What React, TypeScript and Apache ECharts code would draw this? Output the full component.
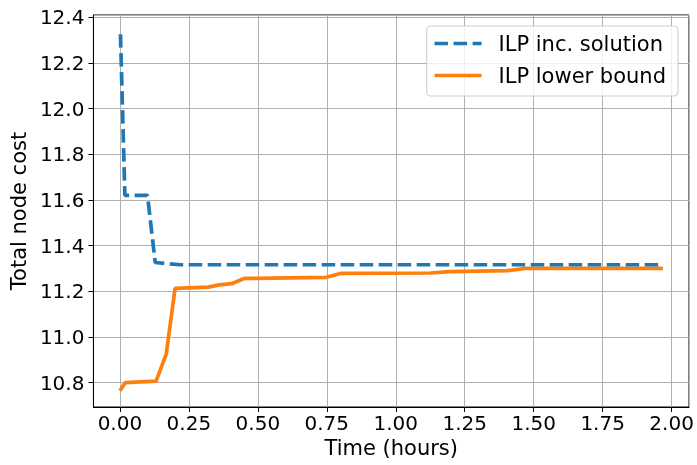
import React, { useEffect, useRef } from "react";
import * as echarts from "echarts";

const incTimes = [0.002, 0.018, 0.1, 0.128, 0.22, 1.968];
const incValues = [12.326, 11.62, 11.62, 11.326, 11.316, 11.316];

const lbTimes = [0.0, 0.02, 0.131, 0.168, 0.2, 0.32, 0.36, 0.405, 0.45, 0.748, 0.8, 1.127, 1.194, 1.404, 1.47, 1.968];
const lbValues = [10.764, 10.8, 10.806, 10.925, 11.213, 11.218, 11.228, 11.233, 11.256, 11.261, 11.278, 11.28, 11.286, 11.29, 11.3, 11.3];

const seriesNames = ["ILP inc. solution", "ILP lower bound"];
const xTitle = "Time (hours)";
const yTitle = "Total node cost";

const FONT = "DejaVu Sans";

export default function App() {
  const ref = useRef<HTMLDivElement>(null);
  useEffect(() => {
    if (!ref.current) return;
    const chart = echarts.init(ref.current, null, { renderer: "svg" });
    const pair = (xs: number[], ys: number[]) => xs.map((x, i) => [x, ys[i]]);
    chart.setOption({
      animation: false,
      textStyle: { fontFamily: FONT },
      grid: {
        left: 92,
        right: 8,
        top: 15,
        bottom: 58,
        show: true,
        borderColor: "#000",
        borderWidth: 1,
        backgroundColor: "transparent",
      },
      legend: {
        right: 19,
        top: 26,
        orient: "vertical",
        itemWidth: 47,
        itemHeight: 21,
        itemGap: 11,
        itemStyle: { opacity: 0 },
        lineStyle: { width: 3.7 },
        padding: [7, 12, 10, 6],
        backgroundColor: "rgba(255,255,255,0.8)",
        borderColor: "#cccccc",
        borderWidth: 1,
        borderRadius: 4,
        textStyle: { fontSize: 21, color: "#000", fontFamily: FONT, padding: [0, 0, 0, 12], lineHeight: 21 },
        data: seriesNames,
      },
      xAxis: {
        type: "value",
        min: -0.096,
        max: 2.063,
        minInterval: 0.25,
        maxInterval: 0.25,
        name: xTitle,
        nameLocation: "middle",
        nameGap: 26,
        nameTextStyle: { fontSize: 21, color: "#000", fontFamily: FONT },
        axisLine: { show: true, onZero: false, lineStyle: { color: "#000", width: 1 } },
        axisTick: { show: true, length: 5, lineStyle: { color: "#000" } },
        axisLabel: {
          fontSize: 20,
          color: "#000",
          fontFamily: FONT,
          margin: 6,
          showMinLabel: false,
          showMaxLabel: false,
          formatter: (v: number) => v.toFixed(2),
        },
        splitLine: { show: true, lineStyle: { color: "#b0b0b0", width: 1 } },
      },
      yAxis: {
        type: "value",
        min: 10.693,
        max: 12.41,
        minInterval: 0.2,
        maxInterval: 0.2,
        name: yTitle,
        nameLocation: "middle",
        nameGap: 53,
        nameRotate: 90,
        nameTextStyle: { fontSize: 21, color: "#000", fontFamily: FONT },
        axisLine: { show: true, onZero: false, lineStyle: { color: "#000", width: 1 } },
        axisTick: { show: true, length: 5, lineStyle: { color: "#000" } },
        axisLabel: {
          fontSize: 20,
          color: "#000",
          fontFamily: FONT,
          margin: 9,
          showMinLabel: false,
          showMaxLabel: false,
          formatter: (v: number) => v.toFixed(1),
        },
        splitLine: { show: true, lineStyle: { color: "#b0b0b0", width: 1 } },
      },
      series: [
        {
          name: seriesNames[0],
          type: "line",
          data: pair(incTimes, incValues),
          showSymbol: false,
          symbol: "none",
          lineStyle: { color: "#1f77b4", width: 3.7, type: [13.5, 5.5] },
          itemStyle: { color: "#1f77b4" },
          z: 3,
        },
        {
          name: seriesNames[1],
          type: "line",
          data: pair(lbTimes, lbValues),
          showSymbol: false,
          symbol: "none",
          lineStyle: { color: "#ff7f0e", width: 3.7 },
          itemStyle: { color: "#ff7f0e" },
          z: 2,
        },
      ],
    });
    return () => chart.dispose();
  }, []);
  return <div ref={ref} style={{ position: "fixed", left: 0, top: 0, width: 697, height: 465 }} />;
}
